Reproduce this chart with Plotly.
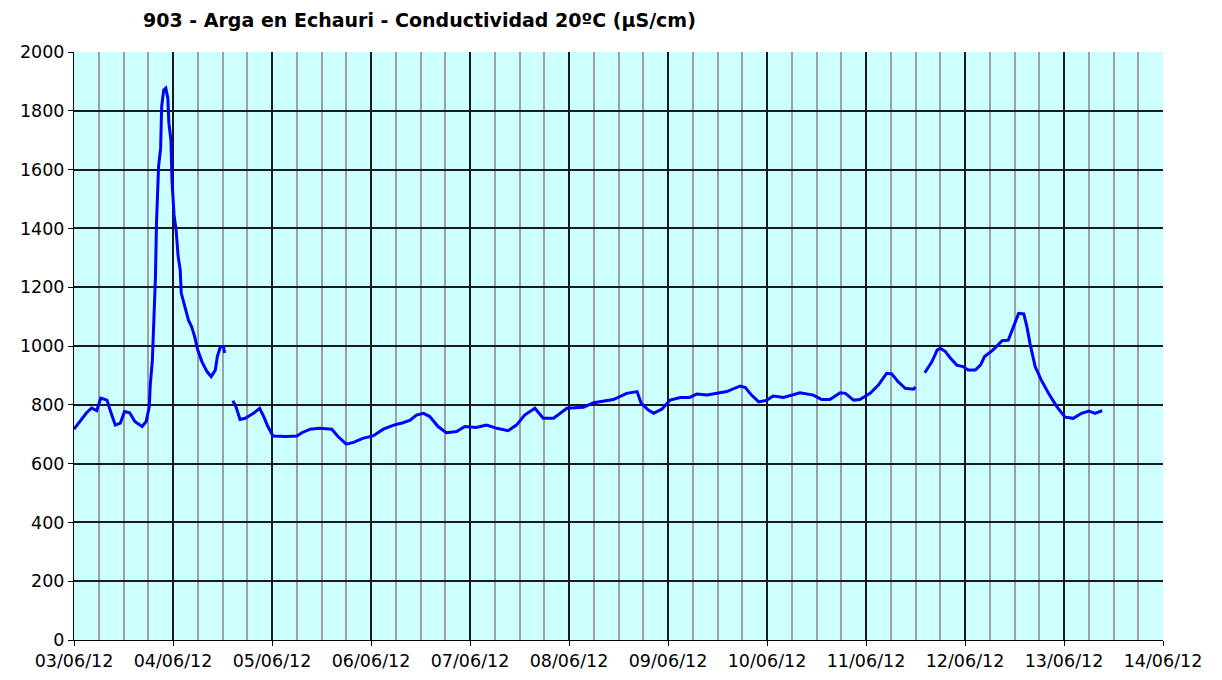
import plotly.graph_objects as go

# lecturas de conductividad (µS/cm), None = hueco en la serie
fechas = [
    "2012-06-03 00:00", "2012-06-03 01:30", "2012-06-03 03:00", "2012-06-03 04:15", "2012-06-03 05:30",
    "2012-06-03 06:30", "2012-06-03 08:00", "2012-06-03 08:45", "2012-06-03 10:00", "2012-06-03 11:15",
    "2012-06-03 12:15", "2012-06-03 13:30", "2012-06-03 14:45", "2012-06-03 16:30", "2012-06-03 17:30",
    "2012-06-03 18:15", "2012-06-03 18:30", "2012-06-03 19:00", "2012-06-03 19:30", "2012-06-03 19:45",
    "2012-06-03 20:00", "2012-06-03 20:30", "2012-06-03 21:00", "2012-06-03 21:15", "2012-06-03 21:45",
    "2012-06-03 22:15", "2012-06-03 22:45", "2012-06-03 23:00", "2012-06-03 23:30", "2012-06-03 23:45",
    "2012-06-04 00:15", "2012-06-04 00:45", "2012-06-04 01:15", "2012-06-04 01:45", "2012-06-04 02:00",
    "2012-06-04 03:00", "2012-06-04 03:45", "2012-06-04 04:30", "2012-06-04 05:15", "2012-06-04 06:00",
    "2012-06-04 07:00", "2012-06-04 08:15", "2012-06-04 09:15", "2012-06-04 10:15", "2012-06-04 10:45",
    "2012-06-04 11:30", "2012-06-04 12:15", "2012-06-04 12:30",
    "2012-06-04 13:30",
    "2012-06-04 14:30", "2012-06-04 15:15", "2012-06-04 16:15", "2012-06-04 17:30", "2012-06-04 19:30",
    "2012-06-04 21:00", "2012-06-04 22:00", "2012-06-04 23:00", "2012-06-05 00:15", "2012-06-05 03:30",
    "2012-06-05 06:00", "2012-06-05 07:15", "2012-06-05 09:15", "2012-06-05 11:30", "2012-06-05 14:30",
    "2012-06-05 16:00", "2012-06-05 18:00", "2012-06-05 19:45", "2012-06-05 22:00", "2012-06-06 00:30",
    "2012-06-06 03:00", "2012-06-06 05:30", "2012-06-06 07:45", "2012-06-06 09:30", "2012-06-06 11:00",
    "2012-06-06 12:45", "2012-06-06 14:15", "2012-06-06 16:15", "2012-06-06 18:15", "2012-06-06 20:45",
    "2012-06-06 22:45", "2012-06-07 01:30", "2012-06-07 04:00", "2012-06-07 06:30", "2012-06-07 09:15",
    "2012-06-07 11:15", "2012-06-07 13:15", "2012-06-07 15:45", "2012-06-07 17:45", "2012-06-07 20:15",
    "2012-06-07 23:30", "2012-06-08 03:30", "2012-06-08 06:00", "2012-06-08 09:15", "2012-06-08 10:45",
    "2012-06-08 14:00", "2012-06-08 16:30", "2012-06-08 17:30", "2012-06-08 19:15", "2012-06-08 20:30",
    "2012-06-08 22:30", "2012-06-09 00:30", "2012-06-09 03:00", "2012-06-09 05:15", "2012-06-09 07:00",
    "2012-06-09 09:30", "2012-06-09 11:45", "2012-06-09 14:15", "2012-06-09 17:30", "2012-06-09 18:45",
    "2012-06-09 20:15", "2012-06-09 22:00", "2012-06-10 00:00", "2012-06-10 01:30", "2012-06-10 04:00",
    "2012-06-10 06:00", "2012-06-10 08:00", "2012-06-10 11:15", "2012-06-10 13:15", "2012-06-10 15:15",
    "2012-06-10 17:45", "2012-06-10 19:00", "2012-06-10 21:00", "2012-06-10 22:30", "2012-06-11 01:00",
    "2012-06-11 03:00", "2012-06-11 05:00", "2012-06-11 06:15", "2012-06-11 07:45", "2012-06-11 09:30",
    "2012-06-11 11:30", "2012-06-11 12:00",
    "2012-06-11 13:00",
    "2012-06-11 14:15", "2012-06-11 16:00", "2012-06-11 17:15", "2012-06-11 18:00", "2012-06-11 19:15",
    "2012-06-11 20:30", "2012-06-11 22:00", "2012-06-11 23:30", "2012-06-12 00:45", "2012-06-12 02:30",
    "2012-06-12 03:45", "2012-06-12 04:45", "2012-06-12 06:45", "2012-06-12 09:00", "2012-06-12 10:30",
    "2012-06-12 11:45", "2012-06-12 13:00", "2012-06-12 14:15", "2012-06-12 15:00", "2012-06-12 15:45",
    "2012-06-12 17:00", "2012-06-12 18:30", "2012-06-12 20:15", "2012-06-12 22:15", "2012-06-13 00:15",
    "2012-06-13 02:15", "2012-06-13 04:15", "2012-06-13 06:00", "2012-06-13 07:30", "2012-06-13 09:15",
]
conductividad = [
    717, 743, 772, 789, 780,
    823, 816, 782, 731, 738,
    777, 773, 743, 726, 743,
    794, 870, 952, 1122, 1236,
    1418, 1610, 1673, 1814, 1871,
    1877, 1843, 1758, 1700, 1565,
    1446, 1395, 1304, 1259, 1180,
    1122, 1088, 1066, 1032, 986,
    947, 913, 896, 918, 964,
    998, 998, 976,
    None,
    814, 794, 750, 754, 771,
    788, 760, 726, 694, 692,
    694, 705, 717, 720, 717,
    692, 666, 672, 686, 694,
    717, 731, 739, 748, 765,
    771, 760, 726, 705, 709,
    726, 723, 731, 720, 712,
    731, 765, 788, 754, 754,
    788, 792, 807, 814, 818,
    839, 845, 805, 782, 771,
    785, 816, 825, 825, 837,
    833, 839, 845, 864, 859,
    833, 810, 816, 830, 825,
    833, 841, 833, 818, 818,
    841, 839, 816, 818, 839,
    867, 907, 905, 879, 856,
    853, 860,
    None,
    909, 947, 986, 992, 981,
    958, 935, 930, 918, 918,
    935, 964, 986, 1018, 1020,
    1066, 1111, 1109, 1066, 1009,
    930, 884, 839, 794, 758,
    754, 771, 779, 771, 780,
]

titulo = "903 - Arga en Echauri - Conductividad 20ºC (µS/cm)"
fuente = "DejaVu Sans, Verdana, sans-serif"

fig = go.Figure(
    data=[
        go.Scatter(
            x=fechas,
            y=conductividad,
            mode="lines",
            line=dict(color="#0000FF", width=3),
            connectgaps=False,
            showlegend=False,
        )
    ]
)

# la página añade 8 px de margen al cuerpo
fig.update_layout(
    width=1222,
    height=680,
    paper_bgcolor="white",
    plot_bgcolor="#CCFFFF",
    margin=dict(l=66, r=67, t=44, b=48),
    title=dict(
        text=titulo,
        x=135 / 1222,
        xref="container",
        xanchor="left",
        y=1 - 12 / 680,
        yref="container",
        yanchor="middle",
        font=dict(family=fuente, size=19, color="black", weight="bold"),
    ),
    font=dict(family=fuente, size=17.5, color="black"),
)

fig.update_xaxes(
    type="date",
    range=["2012-06-03", "2012-06-14"],
    dtick=86400000,
    tick0="2012-06-03",
    tickformat="%d/%m/%y",
    ticks="outside",
    ticklen=5,
    tickcolor="black",
    showgrid=True,
    gridcolor="#1A1A1A",
    gridwidth=2,
    minor=dict(dtick=6 * 3600000, showgrid=True, gridcolor="#A0A0A0", gridwidth=2),
    showline=True,
    linecolor="black",
    linewidth=1,
    zeroline=False,
)
fig.update_yaxes(
    range=[0, 2000],
    dtick=200,
    ticks="outside",
    ticklen=5,
    tickcolor="black",
    showgrid=True,
    gridcolor="#1A1A1A",
    gridwidth=2,
    showline=True,
    linecolor="black",
    linewidth=1,
    zeroline=False,
)

fig.write_html("out.html")
